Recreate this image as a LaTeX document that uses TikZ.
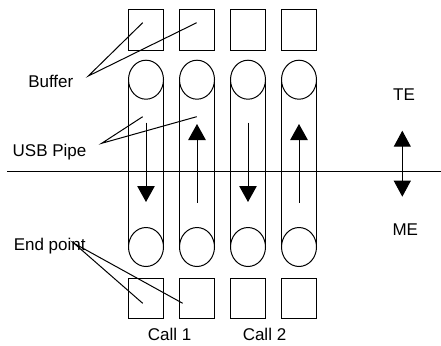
\documentclass[tikz,border=0pt]{standalone}
\usepackage{fontspec}
\setmainfont{Liberation Sans}
\usetikzlibrary{shapes.geometric,arrows.meta}

\begin{document}
\begin{tikzpicture}[x=1pt,y=-1pt,line width=1pt]
    \pgfmathsetmacro{\slotwidth}{35}
    \pgfmathsetmacro{\slotheight}{41}
    \pgfmathsetmacro{\wheelheight}{39}
    \pgfmathsetmacro{\bufy}{30.3}
    \pgfmathsetmacro{\endy}{298}
    \pgfmathsetmacro{\topwheely}{79.7}
    \pgfmathsetmacro{\botwheely}{247}
    \pgfmathsetmacro{\rimy}{171}
    \providecommand{\labelfontsize}{\fontsize{17pt}{20pt}\selectfont}
    \tikzset{
      slot/.style={draw,rectangle,minimum width=\slotwidth pt,minimum height=\slotheight pt,inner sep=0,outer sep=0},
      wheel/.style={draw,ellipse,minimum width=\slotwidth pt,minimum height=\wheelheight pt,inner sep=0,outer sep=0},
      flow/.style={-{Triangle[width=17.5pt,length=16pt]}},
      lbl/.style={anchor=base,inner sep=0,font=\labelfontsize}
    }
    \useasboundingbox (0,0) rectangle (441,345);
    % buffers (top) and end points (bottom)
    \node[slot] (buf1) at (146,\bufy) {};
    \node[slot] (buf2) at (197,\bufy) {};
    \node[slot] (buf3) at (248,\bufy) {};
    \node[slot] (buf4) at (299,\bufy) {};
    \node[slot,minimum height=40pt] (ep1) at (146,\endy) {};
    \node[slot,minimum height=40pt] (ep2) at (197,\endy) {};
    \node[slot,minimum height=40pt] (ep3) at (248,\endy) {};
    \node[slot,minimum height=40pt] (ep4) at (299,\endy) {};
    % pipes
    \node[wheel] (tw1) at (146,\topwheely) {};
    \node[wheel] (tw2) at (197,\topwheely) {};
    \node[wheel] (tw3) at (248,\topwheely) {};
    \node[wheel] (tw4) at (299,\topwheely) {};
    \node[wheel] (bw1) at (146,\botwheely) {};
    \node[wheel] (bw2) at (197,\botwheely) {};
    \node[wheel] (bw3) at (248,\botwheely) {};
    \node[wheel] (bw4) at (299,\botwheely) {};
    \draw (tw1.west) -- (bw1.west) (tw1.east) -- (bw1.east);
    \draw (tw2.west) -- (bw2.west) (tw2.east) -- (bw2.east);
    \draw (tw3.west) -- (bw3.west) (tw3.east) -- (bw3.east);
    \draw (tw4.west) -- (bw4.west) (tw4.east) -- (bw4.east);
    \draw[flow] ([yshift=-23.5pt]tw1.south) -- ([yshift=25.5pt]bw1.north);
    \draw[flow] ([yshift=24.8pt]bw2.north) -- ([yshift=-24.8pt]tw2.south);
    \draw[flow] ([yshift=-23.5pt]tw3.south) -- ([yshift=25.5pt]bw3.north);
    \draw[flow] ([yshift=24.8pt]bw4.north) -- ([yshift=-24.8pt]tw4.south);
    % TE / ME border
    \coordinate (rimleft) at (7,\rimy);
    \coordinate (rimright) at (441,\rimy);
    \draw (rimleft) -- (rimright);
    \coordinate (teup) at (402.3,130.7);
    \coordinate (medown) at (402.3,196.7);
    \draw[{Triangle[width=17pt,length=16pt]}-{Triangle[width=17pt,length=16pt]}] (teup) -- (medown);
    \node[lbl] (te) at (404,100) {TE};
    \node[lbl] (me) at (405.3,235.5) {ME};
    % labels and callouts
    \node[lbl] (buffer) at (50.8,87.3) {Buffer};
    \node[lbl] (usbpipe) at (49.5,156) {USB Pipe};
    \node[lbl] (endpoint) at (49.7,250) {End point};
    \node[lbl] (call1) at (169.6,340.5) {Call 1};
    \node[lbl] (call2) at (264.5,340.5) {Call 2};
    \coordinate (bufhook) at (88.3,76);
    \coordinate (usbhook) at (101.7,143.3);
    \coordinate (endhook) at (74,243.3);
    \draw ([shift={(-3.3,-7.6)}]buf1.center) -- (bufhook) -- ([shift={(-0.3,-7.6)}]buf2.center);
    \draw ([shift={(-3.3,17.5)}]tw1.south) -- (usbhook) -- ([shift={(-0.3,17.5)}]tw2.south);
    \draw ([shift={(-3.3,5.3)}]ep1.center) -- (endhook) -- ([shift={(-14.3,5.3)}]ep2.center);
\end{tikzpicture}
\end{document}
